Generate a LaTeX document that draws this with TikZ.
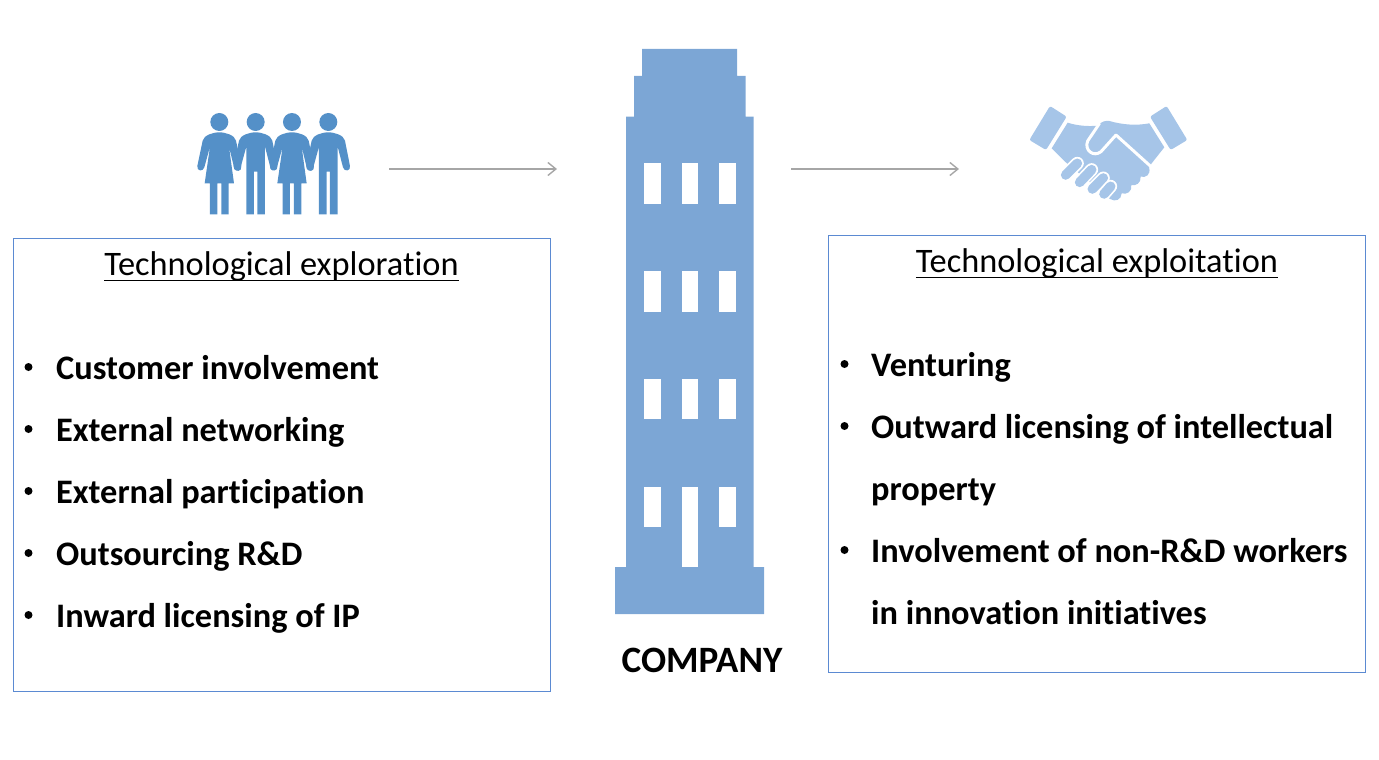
\documentclass[tikz,border=0pt]{standalone}
\usepackage{fontspec}
\setmainfont{Carlito}[Ligatures=CommonOff]
\usetikzlibrary{arrows.meta}
\definecolor{bld}{HTML}{7CA6D5}
\definecolor{ppl}{HTML}{5490C8}
\definecolor{hnd}{HTML}{A6C5E8}
\definecolor{arr}{HTML}{A6A6A6}
\definecolor{bor}{HTML}{5B8AD2}
\newsavebox{\ulbox}
\newcommand{\ulined}[1]{\sbox{\ulbox}{#1}\rlap{\rule[-5.8pt]{\wd\ulbox}{1.8pt}}\usebox{\ulbox}}
\tikzset{
  panel/.style={draw=bor,line width=0.9pt,fill=none,minimum width=#1,inner sep=0pt,outer sep=0pt},
  head/.style={font=\fontsize{34.35}{40}\selectfont,anchor=base,inner sep=0pt},
  item/.style={font=\fontsize{34.35}{40}\selectfont\bfseries,anchor=base west,inner sep=0pt},
  dot/.style={circle,fill=black,minimum size=8pt,inner sep=0pt},
  flow/.style={draw=arr,line width=1.6pt,-{Straight Barb[length=8pt,width=13pt,line width=1.4pt]}},
  win/.style={fill=white,draw=none},
  woman/.pic={
    \fill[ppl] (118,66) circle (27);
    \fill[ppl] (68,122) .. controls (72,105) and (100,97) .. (118,97) .. controls (136,97) and (164,105) .. (168,122)
      -- (184,198) .. controls (187,216) and (165,218) .. (162,202) -- (147,140) -- (162,250) -- (146,250) -- (146,343) -- (124,343) -- (124,250)
      -- (112,250) -- (112,343) -- (90,343) -- (90,250) -- (74,250) -- (90,140) -- (73,202)
      .. controls (70,216) and (49,214) .. (52,198) -- cycle;
  },
  man/.pic={
    \fill[ppl] (445,66) circle (27);
    \fill[ppl] (395,122) .. controls (399,105) and (427,97) .. (445,97) .. controls (463,97) and (491,105) .. (495,122)
      -- (510,198) .. controls (513,214) and (492,216) .. (489,202) -- (473,140) -- (473,343) -- (450,343) -- (450,215)
      -- (440,215) -- (440,343) -- (417,343) -- (417,140) -- (400,202)
      .. controls (397,216) and (376,214) .. (379,198) -- cycle;
  },
}
\begin{document}
\begin{tikzpicture}[x=1pt,y=-1pt]
\useasboundingbox (0,0) rectangle (1379,760);

% building
\fill[bld] (642,49) -- (737,49) -- (737,76) -- (745.5,76) -- (745.5,116.5) -- (753.5,116.5) -- (753.5,567)
  -- (764,567) -- (764,614) -- (615,614) -- (615,567) -- (626,567) -- (626,116.5) -- (634,116.5) -- (634,76) -- (642,76) -- cycle;
\foreach \y/\h in {163/41,271/41,379/40,486.5/40.5}{
  \fill[win] (644,\y) rectangle ++(16.5,\h);
  \fill[win] (719,\y) rectangle ++(16.5,\h);
}
\foreach \y/\h in {163/41,271/41,379/40,486.5/80.5}{
  \fill[win] (681.5,\y) rectangle ++(16.5,\h);
}

% people
\begin{scope}[shift={(180,100)},x=0.3333pt,y=-0.3333pt]
  \pic {woman};
  \pic at (218,0) {woman};
  \pic {man};
  \pic at (-218,0) {man};
\end{scope}

% handshake
\begin{scope}[shift={(1020,95)},x=0.3333pt,y=-0.3333pt]
  \fill[hnd,rounded corners=2pt] (90,33) -- (140,65) -- (78,165) -- (28,135) -- cycle;
  \fill[hnd,rounded corners=2pt] (440,33) -- (390,65) -- (452,165) -- (502,135) -- cycle;
  \fill[hnd] (143,83) .. controls (170,92) and (205,95) .. (232,92) .. controls (245,80) and (255,76) .. (268,78)
    .. controls (310,90) and (350,92) .. (388,85) -- (433,157) -- (395,205) -- (387,218)
    .. controls (394,237) and (378,250) .. (362,245) .. controls (364,264) and (347,274) .. (334,270)
    .. controls (337,290) and (320,300) .. (305,295) .. controls (304,314) and (287,322) .. (270,312)
    -- (135,200) -- (95,160) -- cycle;
  \draw[white,line width=3pt,line cap=round,line join=round] (238,86) -- (203,138) .. controls (192,165) and (220,188) .. (243,170) -- (288,120) -- (392,214);
  \foreach \a/\b/\c/\d in {137/240/172/205,179/262/215/224,217/282/250/249,252/297/272/274}{
    \draw[white,line width=13pt,line cap=round] (\a,\b) -- (\c,\d);
    \draw[hnd,line width=9.6pt,line cap=round] (\a,\b) -- (\c,\d);
  }
\end{scope}

% panels
\node[panel=537.5pt,minimum height=453pt] (left) at (282,464.5) {};
\node[panel=537pt,minimum height=437pt] (right) at (1097.25,453.5) {};

\node[head] (lhead) at (281.5,275.5) {\ulined{Technological exploration}};
\node[head] (rhead) at (1097,272.5) {\ulined{Technological exploitation}};

\node[dot] (l1) at (28.5,367) {}; \node[item] (lt1) at (56,379) {Customer involvement};
\node[dot] (l2) at (28.5,429) {}; \node[item] (lt2) at (56,441) {External networking};
\node[dot] (l3) at (28.5,491) {}; \node[item] (lt3) at (56,503) {External participation};
\node[dot] (l4) at (28.5,553) {}; \node[item] (lt4) at (56,565) {Outsourcing R\&D};
\node[dot] (l5) at (28.5,615) {}; \node[item] (lt5) at (56,627) {Inward licensing of IP};

\node[dot] (r1) at (844.5,364) {}; \node[item] (rt1) at (871,376.5) {Venturing};
\node[dot] (r2) at (844.5,426) {}; \node[item] (rt2) at (871,438.5) {Outward licensing of intellectual};
\node[item] (rt2b) at (871,500.5) {property};
\node[dot] (r3) at (844.5,550) {}; \node[item] (rt3) at (871,562.5) {Involvement of non-R\&D workers};
\node[item] (rt3b) at (871,624) {in innovation initiatives};

\node[item,anchor=base,font=\fontsize{37.2}{42}\selectfont\bfseries] (company) at (702,672) {COMPANY};

% arrows
\coordinate (a1s) at (389,169); \coordinate (a1e) at (557,169);
\coordinate (a2s) at (791,169); \coordinate (a2e) at (959,169);
\draw[flow] (a1s) -- (a1e);
\draw[flow] (a2s) -- (a2e);
\end{tikzpicture}
\end{document}
